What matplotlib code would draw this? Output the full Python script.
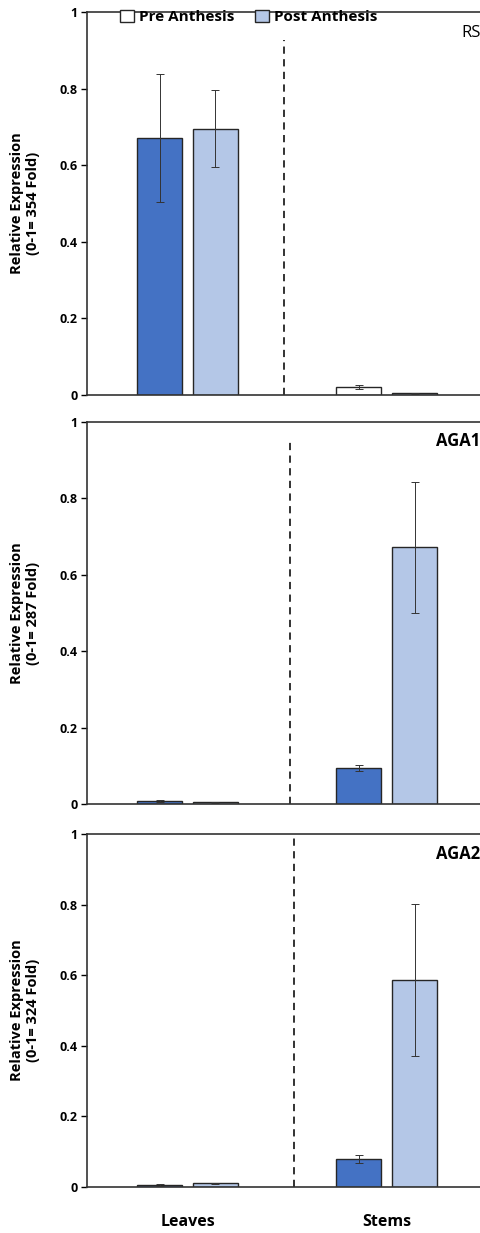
import numpy as np
import matplotlib.pyplot as plt

plt.rcParams['font.family'] = ['Open Sans', 'DejaVu Sans']

# data
tissues = ["Leaves", "Stems"]
genes = ["RS", "AGA1", "AGA2"]
folds = [354, 287, 324]

pre_vals = [[0.67, 0.021], [0.008, 0.094], [0.006, 0.080]]
pre_err = [[0.167, 0.004], [0.003, 0.007], [0.003, 0.012]]
post_vals = [[0.695, 0.005], [0.005, 0.672], [0.010, 0.587]]
post_err = [[0.100, 0.001], [0.001, 0.172], [0.002, 0.215]]

# colours of each bar (first panel stems drawn as the legend swatches)
pre_colors = [["#4472C4", "#FFFFFF"], ["#4472C4", "#4472C4"], ["#4472C4", "#4472C4"]]
post_colors = [["#B4C7E7", "#B4C7E7"], ["#B4C7E7", "#B4C7E7"], ["#B4C7E7", "#B4C7E7"]]

yticks = [0, 0.2, 0.4, 0.6, 0.8, 1]
ytick_labels = ["0", "0.2", "0.4", "0.6", "0.8", "1"]

divider_x = [0.485, 0.515, 0.535]
divider_top = [0.927, 0.948, 1.0]

# panel placement (figure fractions)
panels = [(0.6796, 0.3107), (0.3479, 0.3098), (0.0373, 0.2863)]
label_y = [0.965, 0.975, 0.968]

fig = plt.figure(figsize=(4.81, 12.33), dpi=100)

x = np.arange(len(tissues))
w = 0.225
off = 0.14

for k, gene in enumerate(genes):
    bottom, height = panels[k]
    ax = fig.add_axes([0.181, bottom, 0.83, height])
    ax.bar(x - off, pre_vals[k], w, color=pre_colors[k], edgecolor="#262626",
           linewidth=1.0, yerr=pre_err[k], capsize=3,
           error_kw=dict(elinewidth=0.7, capthick=0.7, ecolor="#333333"))
    ax.bar(x + off, post_vals[k], w, color=post_colors[k], edgecolor="#262626",
           linewidth=1.0, yerr=post_err[k], capsize=3,
           error_kw=dict(elinewidth=0.7, capthick=0.7, ecolor="#333333"))
    ax.plot([divider_x[k], divider_x[k]], [0, divider_top[k]], ls=(0, (4, 3)),
            color="#222222", lw=1.3)
    ax.set_xlim(-0.505, 1.5)
    ax.set_ylim(0, 1)
    ax.set_yticks(yticks)
    ax.set_yticklabels(ytick_labels, fontsize=9, fontweight="bold")
    ax.tick_params(axis="y", direction="out", length=4, width=1, pad=3)
    ax.set_xticks([])
    for s in ["left", "bottom", "top"]:
        ax.spines[s].set_linewidth(1.2)
        ax.spines[s].set_color("#333333")
    ax.spines["right"].set_visible(False)
    ax.set_ylabel(f"Relative Expression\n(0-1= {folds[k]} Fold)", fontsize=10.5,
                  fontweight="bold", labelpad=14)
    if k == 0:
        ax.text(0.985, label_y[k], gene, transform=ax.transAxes, ha="right", va="top",
                fontsize=12)
        handles = [plt.Rectangle((0, 0), 1, 1, fc="white", ec="#262626"),
                   plt.Rectangle((0, 0), 1, 1, fc="#B4C7E7", ec="#262626")]
        ax.legend(handles=handles, labels=["Pre Anthesis", "Post Anthesis"],
                  ncol=2, frameon=False, loc="upper left", bbox_to_anchor=(0.06, 1.03),
                  handlelength=0.9, handleheight=0.9, handletextpad=0.3,
                  columnspacing=1.4, borderaxespad=0.2,
                  prop=dict(size=11, weight="bold"))
    else:
        ax.text(0.985, label_y[k], gene, transform=ax.transAxes, ha="right", va="top",
                fontsize=12, fontweight="bold")
    if k == 2:
        for i, t in enumerate(tissues):
            ax.text(x[i], -0.1, t, transform=ax.transData, ha="center", va="center",
                    fontsize=11.5, fontweight="bold")

fig.savefig("out.png", dpi=100)
